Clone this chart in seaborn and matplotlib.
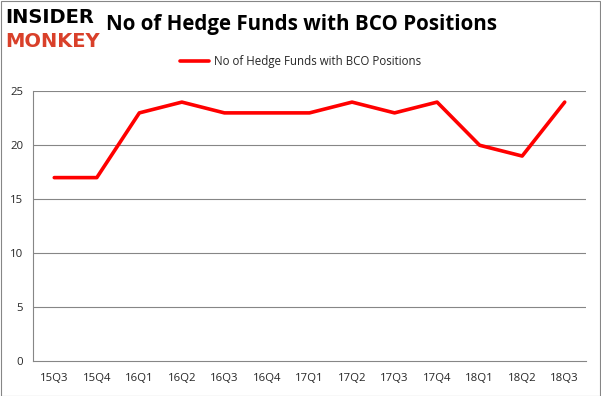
"""BCO hedge fund holdings chart."""

import matplotlib
matplotlib.use("Agg")
import matplotlib.pyplot as plt
import pandas as pd
import seaborn as sns

quarters = ["15Q3", "15Q4", "16Q1", "16Q2", "16Q3", "16Q4", "17Q1",
            "17Q2", "17Q3", "17Q4", "18Q1", "18Q2", "18Q3"]
funds = [17, 17, 23, 24, 23, 23, 23, 24, 23, 24, 20, 19, 24]
y_ticks = [0, 5, 10, 15, 20, 25]
series_name = "No of Hedge Funds with BCO Positions"

sns.set_theme(style="white")
plt.rcParams["font.family"] = ["Open Sans", "DejaVu Sans"]

df = pd.DataFrame({"quarter": quarters, "funds": funds})
df["pos"] = range(len(df))

fig = plt.figure(figsize=(6.01, 3.96), dpi=100)
ax = fig.add_axes([0.0549, 0.0884, 0.9201, 0.681])
sns.lineplot(data=df, x="pos", y="funds", color="#ff0000", linewidth=2.6,
             ax=ax, label=series_name, legend=False)

ax.set_xlim(-0.5, len(quarters) - 0.5)
ax.set_ylim(0, 25)
ax.set_yticks(y_ticks)
ax.set_xticks(range(len(quarters)))
ax.set_xticklabels(quarters)
ax.set_xticks([i - 0.5 for i in range(len(quarters) + 1)], minor=True)
ax.tick_params(axis="x", which="major", length=0, pad=9, labelsize=8.2)
ax.tick_params(axis="x", which="minor", length=4, color="#868686", width=0.8)
ax.tick_params(axis="y", length=4, color="#868686", width=0.8, labelsize=8.2, pad=3)
ax.set_xlabel(""); ax.set_ylabel("")
for tick in ax.get_yticks():
    if tick > 0:
        ax.axhline(tick, color="#868686", linewidth=0.8, zorder=0)
for side in ("top", "right"):
    ax.spines[side].set_visible(False)
for side in ("left", "bottom"):
    ax.spines[side].set_color("#868686"); ax.spines[side].set_linewidth(0.8)

handles, labels = ax.get_legend_handles_labels()
fig.legend(handles, labels, loc="center", bbox_to_anchor=(0.5, 0.845), frameon=False,
           fontsize=8.3, handlelength=2.5, handletextpad=0.4)

fig.text(0.501, 0.937, series_name, ha="center", va="center",
         fontsize=14.8, fontweight="bold", color="black")
fig.text(0.008, 0.955, "INSIDER", ha="left", va="center", fontsize=14,
         fontweight="heavy", color="black", family="DejaVu Sans")
fig.text(0.008, 0.895, "MONKEY", ha="left", va="center", fontsize=14,
         fontweight="heavy", color="#d9402a", family="DejaVu Sans")

fig.patches.append(plt.Rectangle((0.001, 0.001), 0.997, 0.997, transform=fig.transFigure,
                                 fill=False, edgecolor="#868686", linewidth=0.8))
fig.savefig("out.png", dpi=100)
